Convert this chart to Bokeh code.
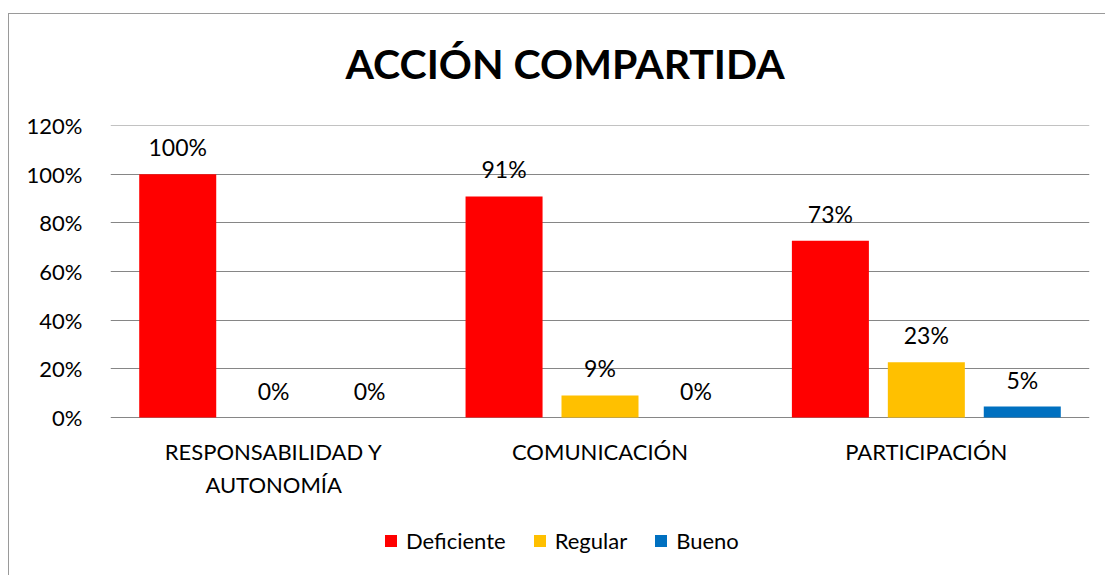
from bokeh.plotting import figure
from bokeh.models import ColumnDataSource, LabelSet, Legend, LegendItem, NumeralTickFormatter, FixedTicker, Title
from bokeh.core.properties import value
from bokeh.transform import dodge
from bokeh.embed import file_html
from bokeh.resources import INLINE

title_text = "ACCIÓN COMPARTIDA"
categories = ["RESPONSABILIDAD Y AUTONOMÍA", "COMUNICACIÓN", "PARTICIPACIÓN"]
category_line1 = ["RESPONSABILIDAD Y", "COMUNICACIÓN", "PARTICIPACIÓN"]
category_line2 = ["AUTONOMÍA", "", ""]
series = ["Deficiente", "Regular", "Bueno"]
deficiente = [1.00, 0.909, 0.727]
regular = [0.0, 0.091, 0.227]
bueno = [0.0, 0.0, 0.045]
deficiente_lbl = ["100%", "91%", "73%"]
regular_lbl = ["0%", "9%", "23%"]
bueno_lbl = ["0%", "0%", "5%"]
y_ticks = [0, 0.2, 0.4, 0.6, 0.8, 1.0, 1.2]

colors = ["#FF0000", "#FFC000", "#0070C0"]
FONT = "Lato"

# the plot area extends below 0 so that category labels and legend sit inside it
p = figure(x_range=categories, y_range=(-0.6494, 1.2005), frame_width=979, frame_height=450,
           output_backend="svg", toolbar_location=None,
           min_border_left=101, min_border_right=16, min_border_top=111, min_border_bottom=0)
p.styles = {"margin-top": "13px", "margin-left": "8px",
            "border-top": "1px solid #9A9A9A", "border-left": "1px solid #9A9A9A"}

# spacer between title and plot area, then the title itself
p.add_layout(Title(text=" ", text_font_size="10px", standoff=25), "above")
p.add_layout(Title(text=title_text, align="left", offset=235, standoff=0,
                   text_font=FONT, text_font_size="41px", text_font_style="bold",
                   text_color="#000000"), "above")

offsets = [-0.294, 0.0, 0.294]
vals = [deficiente, regular, bueno]
lbls = [deficiente_lbl, regular_lbl, bueno_lbl]
items = []
for name, v, l, c, off in zip(series, vals, lbls, colors, offsets):
    src = ColumnDataSource(dict(x=categories, y=v, lbl=l))
    r = p.vbar(x=dodge("x", off, range=p.x_range), top="y", width=0.236, source=src,
               fill_color=c, line_color=None)
    items.append(LegendItem(label=name, renderers=[r]))
    p.add_layout(LabelSet(x=dodge("x", off, range=p.x_range), y="y", text="lbl", source=src,
                          text_align="center", text_baseline="alphabetic", y_offset=18,
                          text_font=value(FONT), text_font_size=value("23px"),
                          text_color="#000000"))

# category labels (two lines) under the 0% line
cat_src = ColumnDataSource(dict(x=categories, y=[0, 0, 0], l1=category_line1, l2=category_line2))
for col, off in (("l1", -34), ("l2", -67)):
    p.add_layout(LabelSet(x="x", y="y", text=col, source=cat_src, text_align="center",
                          text_baseline="middle", y_offset=off, text_font=value(FONT),
                          text_font_size=value("22px"), text_color="#000000"))

p.yaxis.ticker = FixedTicker(ticks=y_ticks)
p.yaxis.formatter = NumeralTickFormatter(format="0%")
p.yaxis.axis_line_color = None
p.yaxis.major_tick_line_color = None
p.yaxis.minor_tick_line_color = None
p.yaxis.major_label_standoff = 22
p.yaxis.major_label_text_font = FONT
p.yaxis.major_label_text_font_size = "22px"
p.yaxis.major_label_text_color = "#000000"

p.xaxis.visible = False

p.xgrid.grid_line_color = None
p.ygrid.grid_line_color = "#868686"
p.ygrid.ticker = FixedTicker(ticks=y_ticks)
p.outline_line_color = None
p.x_range.range_padding = 0

legend = Legend(items=items, orientation="horizontal", location=(273, 21),
                label_text_font=FONT, label_text_font_size="22px", label_text_color="#000000",
                glyph_width=15, glyph_height=15, label_standoff=8, spacing=26, padding=0,
                border_line_color=None, background_fill_alpha=0, margin=0)
p.add_layout(legend, "center")

open("out.html", "w").write(file_html(p, INLINE))
